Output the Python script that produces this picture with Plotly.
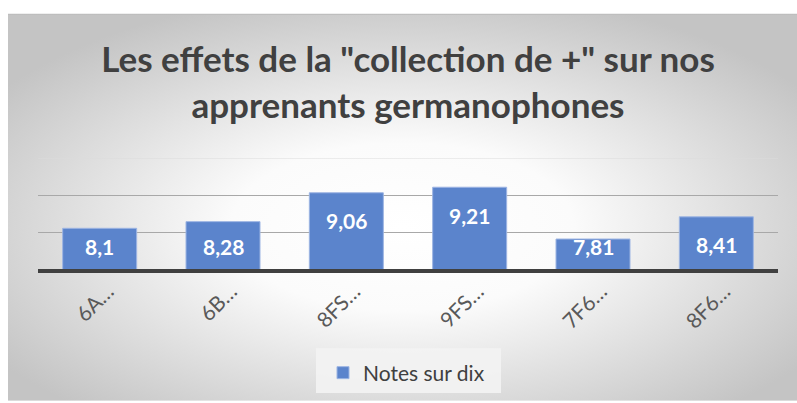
import plotly.graph_objects as go
import urllib.parse

categories = ["6A…", "6B…", "8FS…", "9FS…", "7F6…", "8F6…"]
values = [8.1, 8.28, 9.06, 9.21, 7.81, 8.41]
labels = ["8,1", "8,28", "9,06", "9,21", "7,81", "8,41"]
series_name = "Notes sur dix"
title_text = 'Les effets de la "collection de +" sur nos<br>apprenants germanophones'

W, H = 797, 403
ML, MR, MT, MB = 38, 19, 158, 133
YMIN, YMAX = 7, 10
plot_w = W - ML - MR
plot_h = H - MT - MB
px_per_unit = plot_h / (YMAX - YMIN)

def px_x(p):
    return (p - ML) / plot_w

def px_y(p):
    return (H - MB - p) / plot_h

svg = (
    "<svg xmlns='http://www.w3.org/2000/svg' width='789' height='390' preserveAspectRatio='none'>"
    "<defs><radialGradient id='g' cx='0.5' cy='0.55' r='0.62'>"
    "<stop offset='0' stop-color='#ffffff'/>"
    "<stop offset='0.35' stop-color='#fbfbfb'/>"
    "<stop offset='1' stop-color='#c4c4c4'/>"
    "</radialGradient></defs>"
    "<rect width='789' height='390' fill='url(#g)'/></svg>"
)
svg_uri = "data:image/svg+xml;charset=utf-8," + urllib.parse.quote(svg)

fig = go.Figure()
fig.add_trace(go.Bar(
    x=categories, y=values, name=series_name,
    marker=dict(color="#5b84cc", line=dict(color="#9db5e3", width=1)),
    hoverinfo="skip",
))

annotations = []
for c, v, t in zip(categories, values, labels):
    if (v - YMIN) * px_per_unit > 51:
        yv, ys = v, -28
    else:
        yv, ys = YMIN, 23
    annotations.append(dict(
        x=c, y=yv, yshift=ys, text=t, showarrow=False, xref="x", yref="y",
        font=dict(family="Lato", size=21, color="white", weight="bold"),
        yanchor="middle",
    ))

fig.update_layout(
    width=W, height=H,
    margin=dict(l=ML, r=MR, t=MT, b=MB, pad=0),
    paper_bgcolor="white", plot_bgcolor="rgba(0,0,0,0)",
    bargap=0.4,
    title=dict(
        text=title_text, x=0.5, xanchor="center", xref="paper",
        y=1 - 72 / H, yanchor="middle", yref="container",
        font=dict(family="Lato", size=35, color="#404040", weight="bold"),
    ),
    xaxis=dict(
        showline=True, linewidth=4, linecolor="#404040",
        tickangle=-45, ticks="", showgrid=False,
        tickfont=dict(family="Lato", size=21, color="#595959"),
        ticklabelshift=8, ticklabelstandoff=-2,
        fixedrange=True,
    ),
    yaxis=dict(
        range=[YMIN, YMAX], tickvals=[8, 9], showticklabels=False,
        showgrid=True, gridcolor="#a8a8a8", gridwidth=1, zeroline=False,
        fixedrange=True,
    ),
    showlegend=True,
    legend=dict(
        x=px_x(323), xanchor="left", y=px_y(373), yanchor="middle",
        orientation="h", bgcolor="rgba(0,0,0,0)",
        font=dict(family="Lato", size=21, color="#404040"),
    ),
    images=[dict(
        source=svg_uri, xref="paper", yref="paper",
        x=px_x(8), y=px_y(13), sizex=789 / plot_w, sizey=390 / plot_h,
        xanchor="left", yanchor="top", sizing="stretch", layer="below",
    )],
    shapes=[
        dict(type="line", xref="paper", yref="y", x0=0, x1=1, y0=YMAX, y1=YMAX,
             line=dict(color="#dcdcdc", width=1), layer="below"),
        dict(type="line", xref="paper", yref="paper", x0=px_x(8), x1=px_x(797),
             y0=px_y(13), y1=px_y(13), line=dict(color="#b4b4b4", width=1)),
        dict(type="rect", xref="paper", yref="paper", x0=px_x(316), x1=px_x(501),
             y0=px_y(350), y1=px_y(395), fillcolor="rgba(243,243,243,0.9)",
             line=dict(width=0), layer="below"),
    ],
    annotations=annotations,
)

fig.write_html("out.html", post_script="document.body.style.margin='0';",
               config={"displayModeBar": False})
